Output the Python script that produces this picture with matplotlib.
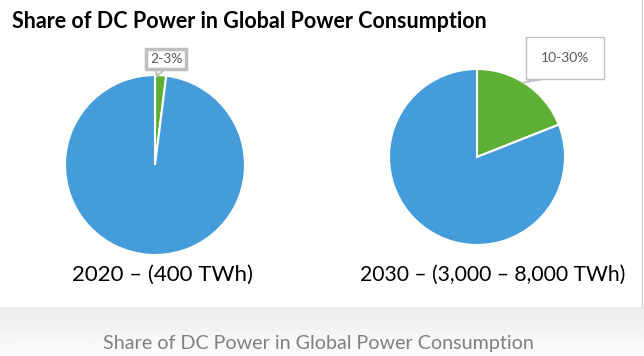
import numpy as np
import matplotlib.pyplot as plt
from matplotlib.patches import Polygon, Rectangle

plt.rcParams['font.family'] = ['Lato', 'DejaVu Sans']

title = "Share of DC Power in Global Power Consumption"
caption = "Share of DC Power in Global Power Consumption"
years = ["2020 – (400 TWh)", "2030 – (3,000 – 8,000 TWh)"]
dc_share = [2.0, 19.0]          # % of global power (DC slice)
share_labels = ["2-3%", "10-30%"]

blue = "#459cda"
green = "#5eb035"

W, H = 644, 356
fig = plt.figure(figsize=(W / 100, H / 100), dpi=100)
ax = fig.add_axes([0, 0, 1, 1])

# grey shadow band under the white panel
grad = np.linspace(0.925, 0.99, 50).reshape(-1, 1)
ax.imshow(np.repeat(grad, 2, axis=1), cmap="gray", vmin=0, vmax=1,
          extent=[0, W, 0, 49], aspect="auto", zorder=0)
ax.add_patch(Rectangle((0, 49), W - 2, H - 49, facecolor="white",
                       edgecolor="none", zorder=1))
ax.plot([W - 1.5, W - 1.5], [49, H], color="#d6d6d6", lw=1, zorder=1)

ax.text(12, H - 22, title, fontsize=15.5, fontweight="bold", color="black",
        va="center", ha="left", zorder=3)

centers = [(155, H - 165), (477, H - 157)]
radii = [90, 88]
for share, c, r in zip(dc_share, centers, radii):
    wedges, _ = ax.pie([share, 100 - share], colors=[green, blue], startangle=90,
                       counterclock=False, center=c, radius=r, frame=True,
                       wedgeprops=dict(edgecolor="white", linewidth=1.5))
    for w in wedges:
        w.set_zorder(2)
ax.set_xlim(0, W)
ax.set_ylim(0, H)
ax.set_aspect("equal")
ax.axis("off")

# year labels
ax.text(163, H - 275, years[0], fontsize=16, ha="center", va="center", zorder=3)
ax.text(493, H - 275, years[1], fontsize=15.2, ha="center", va="center", zorder=3)

# callout 1 (thick grey border)
ax.text(166, H - 59, share_labels[0], fontsize=10, color="#595959",
        ha="center", va="center", zorder=4,
        bbox=dict(boxstyle="square,pad=0.3", facecolor="white",
                  edgecolor="#bfbfbf", lw=2.5))
ax.add_patch(Polygon([(156, H - 70), (164, H - 70), (157, H - 76)],
                     closed=True, facecolor="white", edgecolor="#bfbfbf",
                     lw=1.5, zorder=3))

# callout 2 (thin border)
ax.text(565, H - 58, share_labels[1], fontsize=10, color="#595959",
        ha="center", va="center", zorder=4,
        bbox=dict(boxstyle="square,pad=1.1", facecolor="white",
                  edgecolor="#c0c0c0", lw=1))
ax.plot([545, 522, 535], [H - 79, H - 83, H - 79], color="#c0c0c0", lw=1, zorder=3)

ax.text(318, H - 343, caption, fontsize=14.2, color="#808080",
        ha="center", va="center", zorder=3)

fig.savefig("out.png", dpi=100)
